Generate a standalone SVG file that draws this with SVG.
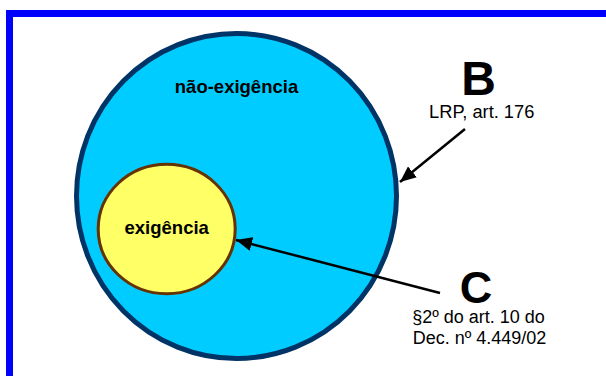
<svg xmlns="http://www.w3.org/2000/svg" width="606" height="376" viewBox="0 0 606 376">
  <style>
    .lbl { font-family: "Liberation Sans", Arial, sans-serif; fill: #000; text-anchor: middle; }
    .b { font-weight: bold; }
    .conn { stroke: #000; stroke-width: 2.5; fill: none; marker-end: url(#ah); }
  </style>
  <defs>
    <marker id="ah" markerUnits="userSpaceOnUse" markerWidth="18" markerHeight="14" refX="16" refY="7" orient="auto">
      <path d="M0,0 L16,7 L0,14 Z" fill="#000"/>
    </marker>
  </defs>
  <rect width="606" height="376" fill="#fff"/>
  <path d="M9.5,376 V13.5 H606" fill="none" stroke="#0000FF" stroke-width="7"/>
  <g id="nao-exigencia">
    <ellipse cx="236.5" cy="196" rx="160" ry="162.5" fill="#00CCFF" stroke="#003366" stroke-width="5"/>
    <text class="lbl b" x="236.5" y="93" font-size="18.5">não-exigência</text>
  </g>
  <g id="exigencia">
    <ellipse cx="166.7" cy="229" rx="68.5" ry="64.7" fill="#FFFF66" stroke="#663300" stroke-width="3"/>
    <text class="lbl b" x="166.7" y="234" font-size="18.5">exigência</text>
  </g>
  <g id="B">
    <text class="lbl b" x="478.5" y="94.5" font-size="48">B</text>
    <text class="lbl" x="481.7" y="118" font-size="18.3">LRP, art. 176</text>
  </g>
  <g id="C">
    <text class="lbl b" x="476" y="303" font-size="45">C</text>
    <text class="lbl" x="478.5" y="323.3" font-size="18">§2º do art. 10 do</text>
    <text class="lbl" x="479.5" y="344.3" font-size="18">Dec. nº 4.449/02</text>
  </g>
  <g id="connectors">
    <line class="conn" x1="465" y1="129" x2="400" y2="182"/>
    <line class="conn" x1="440" y1="293" x2="236" y2="240"/>
  </g>
</svg>
